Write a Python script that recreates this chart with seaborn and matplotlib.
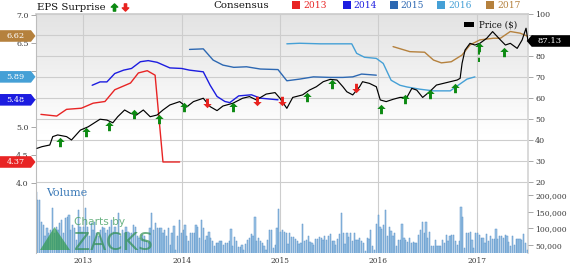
import numpy as np
import pandas as pd
import matplotlib
matplotlib.use("Agg")
import matplotlib.pyplot as plt
import matplotlib.dates as mdates
import matplotlib.ticker as mticker
from matplotlib.path import Path
from matplotlib.patches import Polygon, Rectangle
from matplotlib.lines import Line2D
import seaborn as sns

# ---------------- data ----------------
# price (right axis), time as decimal year
price_t = [2012.53, 2012.58, 2012.66, 2012.69, 2012.74, 2012.83, 2012.88, 2012.97,
           2013.05, 2013.17, 2013.24, 2013.30, 2013.35, 2013.42, 2013.48, 2013.54, 2013.61,
           2013.68, 2013.75, 2013.81, 2013.88, 2013.93, 2013.98,
           2014.05, 2014.12, 2014.22, 2014.29, 2014.36, 2014.42, 2014.52, 2014.62, 2014.69,
           2014.76, 2014.86, 2014.95,
           2015.00, 2015.07, 2015.13, 2015.23, 2015.30, 2015.37, 2015.44, 2015.51, 2015.58,
           2015.64, 2015.68, 2015.74, 2015.81, 2015.84, 2015.91, 2015.98,
           2016.02, 2016.08, 2016.15, 2016.22, 2016.29, 2016.34, 2016.39, 2016.45, 2016.52,
           2016.59, 2016.66, 2016.73, 2016.80, 2016.83, 2016.85, 2016.88, 2016.93, 2016.98,
           2017.03, 2017.10, 2017.16, 2017.24, 2017.29, 2017.34, 2017.41, 2017.46, 2017.50, 2017.52]
price_v = [35.9, 36.7, 37.5, 41.5, 42.3, 41.5, 39.9, 44.6,
           46.2, 49.8, 49.4, 48.1, 51.0, 54.2, 52.6, 51.8, 54.2, 51.0, 51.8, 54.2, 56.6, 57.4, 58.2,
           55.6, 58.2, 59.8, 55.8, 53.9, 56.1, 57.4, 59.8, 60.6, 59.0, 61.8, 62.5,
           59.8, 55.0, 60.2, 61.4, 63.7, 65.3, 67.7, 68.8, 68.5, 65.3, 62.9, 61.4, 65.3, 67.7, 66.9, 65.3,
           59.0, 58.2, 59.3, 60.2, 60.2, 64.5, 63.7, 60.2, 62.9, 66.1, 66.9, 67.7, 68.5, 69.3, 76.5, 82.8,
           86.0, 85.2,
           86.0, 88.4, 91.6, 87.6, 85.2, 86.0, 83.6, 87.6, 93.2, 87.13]

# consensus EPS estimates (left axis)
cons2013_t = [2012.57, 2012.73, 2012.83, 2012.98, 2013.10, 2013.22, 2013.32, 2013.48, 2013.56,
              2013.65, 2013.73, 2013.81, 2013.98]
cons2013_v = [5.22, 5.19, 5.31, 5.33, 5.42, 5.45, 5.66, 5.78, 5.96, 6.00, 5.92, 4.37, 4.37]
cons2014_t = [2013.09, 2013.17, 2013.24, 2013.32, 2013.41, 2013.49, 2013.58, 2013.66, 2013.75,
              2013.88, 2014.00, 2014.08, 2014.22, 2014.29, 2014.36, 2014.44, 2014.49, 2014.58,
              2014.71, 2014.80, 2014.98]
cons2014_v = [5.74, 5.80, 5.80, 5.95, 6.01, 6.04, 6.16, 6.18, 6.15, 6.05, 6.04, 6.01, 5.98, 5.74,
              5.54, 5.45, 5.43, 5.55, 5.57, 5.51, 5.48]
cons2015_t = [2014.08, 2014.22, 2014.32, 2014.42, 2014.53, 2014.66, 2014.80, 2014.98, 2015.07,
              2015.20, 2015.34, 2015.51, 2015.64, 2015.74, 2015.83, 2015.98]
cons2015_v = [6.38, 6.39, 6.19, 6.10, 6.06, 6.07, 6.03, 6.02, 5.82, 5.85, 5.89, 5.88, 5.88, 5.89,
              5.94, 5.92]
cons2016_t = [2015.07, 2015.20, 2015.41, 2015.73, 2015.78, 2015.86, 2015.98, 2016.05, 2016.13,
              2016.22, 2016.29, 2016.42, 2016.56, 2016.73, 2016.81, 2016.90, 2016.98]
cons2016_v = [6.48, 6.49, 6.48, 6.48, 6.31, 6.24, 6.22, 6.13, 5.83, 5.74, 5.71, 5.67, 5.64, 5.64,
              5.74, 5.85, 5.89]
cons2017_t = [2016.15, 2016.32, 2016.47, 2016.56, 2016.64, 2016.74, 2016.85, 2016.93, 2017.03,
              2017.17, 2017.24, 2017.34, 2017.44, 2017.51]
cons2017_v = [6.43, 6.34, 6.33, 6.19, 6.14, 6.16, 6.28, 6.46, 6.55, 6.58, 6.58, 6.70, 6.67, 6.62]

series_names = ["2013", "2014", "2015", "2016", "2017"]
series_colors = ["#e82424", "#1c1ce0", "#2d68b2", "#45a0d6", "#b5813d"]
tag_series = ["2017", "2016", "2014", "2013"]

# EPS surprise arrows (position on the price scale)
arrow_t = [2012.76, 2013.03, 2013.26, 2013.52, 2013.77, 2014.02, 2014.26, 2014.52, 2014.77,
           2015.02, 2015.27, 2015.53, 2015.77, 2016.03, 2016.27, 2016.52, 2016.78, 2017.02, 2017.28]
arrow_y = [39.1, 43.8, 46.6, 52.3, 49.9, 55.5, 57.4, 55.5, 58.5, 58.5, 60.3, 66.6, 64.6, 54.5,
           59.4, 61.8, 64.8, 84.4, 82.0]
arrow_dir = ["up", "up", "up", "up", "up", "up", "down", "up", "down", "down", "up", "up", "down",
             "up", "up", "up", "up", "up", "up"]
stem_t = [2017.02]
stem_low = [77.2]

# weekly volume (thousands)
volume_k = [210, 185, 185, 120, 110, 75, 100, 85, 95, 160, 85, 105, 95, 115, 125, 85, 130, 135, 140,
            95, 110, 100, 65, 155, 105, 90, 105, 160, 105, 75, 115, 95, 120, 85, 75, 95, 105, 100,
            85, 95, 105, 125, 90, 105, 85, 145, 75, 95, 85, 105, 90, 85,
            85, 110, 105, 75, 70, 65, 80, 75, 60, 55, 100, 145, 95, 115, 100, 100, 100, 85, 95, 75,
            100, 50, 85, 107, 35, 75, 125, 85, 95, 110, 75, 60, 87, 87, 85, 110, 105, 70, 125, 100,
            65, 75, 90, 70, 60, 45, 55, 55, 60, 60, 50, 55,
            55, 60, 97, 45, 73, 60, 43, 43, 50, 35, 53, 65, 70, 83, 75, 133, 60, 70, 60, 55, 45, 35,
            65, 95, 95, 40, 50, 102, 157, 88, 95, 90, 85, 53, 85, 73, 73, 67, 60, 53, 55, 112, 60,
            65, 77, 57, 55, 50, 67, 67, 73, 70, 65, 75,
            63, 77, 82, 60, 62, 50, 67, 82, 145, 87, 52, 85, 72, 87, 60, 87, 65, 65, 70, 60, 55, 30,
            70, 67, 95, 45, 35, 112, 139, 105, 97, 110, 155, 75, 103, 93, 77, 87, 45, 65, 65, 112,
            70, 65, 57, 70, 55, 57, 55, 55, 80, 95, 120, 85,
            120, 70, 90, 45, 47, 63, 47, 45, 47, 63, 55, 80, 60, 77, 79, 79, 60, 50, 60, 165, 135,
            40, 87, 85, 90, 65, 40, 85, 87, 80, 70, 70, 55, 83, 60, 77, 67, 67, 97, 67, 77, 75, 70,
            80, 75, 57, 45, 75, 50, 67, 67, 67, 63, 83, 55, 35]
volume_start, volume_end = "2012-07-09", "2017-07-07"

eps_ticks = [4.0, 4.5, 5.0, 5.5, 6.0, 6.5, 7.0]
eps_hidden = [5.5, 6.0]          # labels covered by value tags in the reference
price_ticks = [20, 30, 40, 50, 60, 70, 80, 90, 100]
price_hidden = [90]
vol_ticks = [50000, 100000, 150000, 200000]
x_start, x_end = 2012.52, 2017.52


def to_dt(t):
    y = int(np.floor(t))
    a = pd.Timestamp(year=y, month=1, day=1)
    b = pd.Timestamp(year=y + 1, month=1, day=1)
    return a + (b - a) * (t - y)


# ---------------- figure ----------------
sns.set_theme(style="white")
plt.rcParams["font.family"] = ["DejaVu Serif", "DejaVu Sans"]

W, H = 570, 264
fig = plt.figure(figsize=(W / 100, H / 100), dpi=100)
fig.patch.set_facecolor("white")

L, R, T, B = 36, 528, 14, 253.3
rect = [L / W, 1 - B / H, (R - L) / W, (B - T) / H]

# background gradient
bg = fig.add_axes(rect)
n = 200
f = np.clip(np.linspace(0, 1, n) / 0.5, 0, 1)
top = np.array([0.89, 0.89, 0.89])
img = top[None, :] * (1 - f[:, None]) + f[:, None]
bg.imshow(img[:, None, :], extent=[0, 1, 0, 1], aspect="auto", origin="upper",
          interpolation="bilinear")
bg.set_xlim(0, 1)
bg.set_ylim(0, 1)
bg.axis("off")

axg = fig.add_axes(rect)
axg.patch.set_visible(False)
axv = axg.twinx()
axe = axg.twinx()
axp = axg.twinx()

green = "#0c8a12"
red = "#e8231f"

# volume
vol_dates = pd.date_range(volume_start, volume_end, periods=len(volume_k))
axv.bar(vol_dates, [v * 1000 for v in volume_k], width=4.6, color="#9ec4e6",
        edgecolor="#5b93c8", linewidth=0.35)

# consensus lines
rows = []
for name, ts, vs in zip(series_names,
                        [cons2013_t, cons2014_t, cons2015_t, cons2016_t, cons2017_t],
                        [cons2013_v, cons2014_v, cons2015_v, cons2016_v, cons2017_v]):
    for t, v in zip(ts, vs):
        rows.append({"date": to_dt(t), "eps": v, "series": name})
cons_df = pd.DataFrame(rows)
palette = dict(zip(series_names, series_colors))
sns.lineplot(data=cons_df, x="date", y="eps", hue="series", palette=palette, ax=axe,
             legend=False, linewidth=1.0, estimator=None)

# price line
price_df = pd.DataFrame({"date": [to_dt(t) for t in price_t], "price": price_v})
sns.lineplot(data=price_df, x="date", y="price", ax=axp, color="black", linewidth=0.85,
             estimator=None)

# arrows
up_path = Path([(0, 4.5), (-4, 0.5), (-1.4, 0.5), (-1.4, -4.5), (1.4, -4.5), (1.4, 0.5),
                (4, 0.5), (0, 4.5)], closed=True)
down_path = Path([(x, -y) for x, y in up_path.vertices], closed=True)
for st, sl in zip(stem_t, stem_low):
    i = arrow_t.index(st)
    axp.vlines(to_dt(st), sl, arrow_y[i], colors=green, linestyles=(0, (2.2, 1.6)),
               linewidth=1.4, zorder=4)
for t, y, d in zip(arrow_t, arrow_y, arrow_dir):
    axp.scatter([to_dt(t)], [y], marker=up_path if d == "up" else down_path, s=46,
                color=green if d == "up" else red, linewidths=0, zorder=5)

# ---------------- axes styling ----------------
for a in (axg, axv, axe, axp):
    for s in a.spines.values():
        s.set_visible(False)
    a.set_xlabel("")
    a.set_ylabel("")

axg.set_xlim(to_dt(x_start), to_dt(x_end))
axg.set_ylim(-14.17, 100)
axp.set_ylim(-14.17, 100)
axe.set_ylim(7.0 - (B - 14.7) / 56, 7.0 + 0.7 / 56)
axv.set_ylim(24000, 24000 + (B - T) * 3030)

tick_kw = dict(length=3.6, width=0.6, color="#9a9a9a", labelcolor="#3a3a3a", pad=1.6)

axg.yaxis.tick_right()
axg.set_yticks(price_ticks)
axg.set_yticklabels(["" if v in price_hidden else str(v) for v in price_ticks])
axg.tick_params(axis="y", right=True, left=False, labelright=True, labelleft=False,
                labelsize=5.8, **tick_kw)
axg.xaxis.set_major_locator(mdates.YearLocator())
axg.xaxis.set_major_formatter(mdates.DateFormatter("%Y"))
axg.tick_params(axis="x", bottom=False, length=0, labelsize=5.4, pad=2.6, labelcolor="#3a3a3a")
axg.grid(True, color="#cdcdcd", linewidth=0.8)
axg.spines["top"].set_visible(True)
axg.spines["top"].set_color("#cdcdcd")
axg.spines["right"].set_visible(True)
axg.spines["right"].set_color("#d5d5d5")

axv.yaxis.tick_right()
axv.set_yticks(vol_ticks)
axv.yaxis.set_major_formatter(mticker.FuncFormatter(lambda v, p: f"{int(v):,}"))
axv.tick_params(axis="y", right=True, left=False, labelright=True, labelleft=False,
                labelsize=5.5, **tick_kw)
axv.grid(False)

axe.yaxis.tick_left()
axe.set_yticks(eps_ticks)
axe.set_yticklabels(["" if v in eps_hidden else f"{v:.1f}" for v in eps_ticks])
axe.tick_params(axis="y", left=True, right=False, labelleft=True, labelright=False,
                labelsize=5.7, **tick_kw)
axe.grid(False)
axe.spines["left"].set_visible(True)
axe.spines["left"].set_color("#bdbdbd")
axe.spines["left"].set_linewidth(0.8)

axp.set_yticks([])
axp.tick_params(axis="y", left=False, right=False, labelleft=False, labelright=False)
axp.grid(False)


# ---------------- header / annotations ----------------
def fxy(x, y):
    return x / W, 1 - y / H


fig.text(*fxy(37, 7.3), "EPS Surprise", fontsize=7.3, va="center", ha="left", color="#111111")
fig.add_artist(Line2D([113.5 / W], [1 - 7 / H], marker=up_path, markersize=5.2, color=green,
                      linestyle="none", transform=fig.transFigure))
fig.add_artist(Line2D([124.5 / W], [1 - 7 / H], marker=down_path, markersize=5.2, color=red,
                      linestyle="none", transform=fig.transFigure))
fig.text(*fxy(213, 5.7), "Consensus", fontsize=7.4, va="center", ha="left", color="#111111")

leg_square_x = [292, 342.7, 389.7, 437, 486]
for name, col, sx in zip(series_names, series_colors, leg_square_x):
    fig.add_artist(Rectangle(fxy(sx, 9), 8 / W, 8 / H, transform=fig.transFigure,
                             facecolor=col, edgecolor="none"))
    fig.text(*fxy(sx + 11, 5.2), name, fontsize=6.6, va="center", ha="left", color=col)

fig.add_artist(Rectangle(fxy(464, 26.7), 10 / W, 4.4 / H, transform=fig.transFigure,
                         facecolor="black", edgecolor="none"))
fig.text(*fxy(479, 25.3), "Price ($)", fontsize=6.3, va="center", ha="left", color="#111111")

fig.text(*fxy(46.5, 193), "Volume", fontsize=7.9, va="center", ha="left", color="#3b7ab8")

# watermark
fig.add_artist(Polygon([fxy(40, 250), fxy(54.5, 227), fxy(70, 250)], closed=True,
                       transform=fig.transFigure, facecolor="#2f9a4a", alpha=0.7,
                       edgecolor="none", zorder=6))
fig.text(*fxy(74, 222), "Charts by", fontsize=7.6, va="center", ha="left", color="#3a9a5a",
         alpha=0.75, family="DejaVu Sans", zorder=6)
fig.text(*fxy(74, 250.5), "ZACKS", fontsize=17, va="baseline", ha="left", color="#2f8f50",
         alpha=0.7, family="DejaVu Sans", zorder=6)

# value tags
last_vals = {n: v[-1] for n, v in zip(series_names,
                                      [cons2013_v, cons2014_v, cons2015_v, cons2016_v, cons2017_v])}
inv = fig.transFigure.inverted()
for name in tag_series:
    val = last_vals[name]
    yd = axe.get_yaxis_transform().transform((0, val))[1]
    hh = 5.8
    pts = inv.transform([(0, yd - hh), (31, yd - hh), (35.5, yd), (31, yd + hh), (0, yd + hh)])
    fig.add_artist(Polygon(pts, closed=True, transform=fig.transFigure,
                           facecolor=palette[name], edgecolor="none", zorder=10))
    fig.text(15.5 / W, yd / H, f"{val:.2f}", fontsize=5.9, color="white", va="center",
             ha="center", zorder=11)

pval = price_v[-1]
yd = axp.get_yaxis_transform().transform((0, pval))[1]
hh = 5.8
pts = inv.transform([(526.7, yd), (531.7, yd + hh), (570, yd + hh), (570, yd - hh),
                     (531.7, yd - hh)])
fig.add_artist(Polygon(pts, closed=True, transform=fig.transFigure, facecolor="black",
                       edgecolor="none", zorder=10))
fig.text(549.5 / W, yd / H, f"{pval:.2f}", fontsize=6.0, color="white", va="center",
         ha="center", zorder=11)

fig.savefig("out.png", dpi=100, facecolor="white")
